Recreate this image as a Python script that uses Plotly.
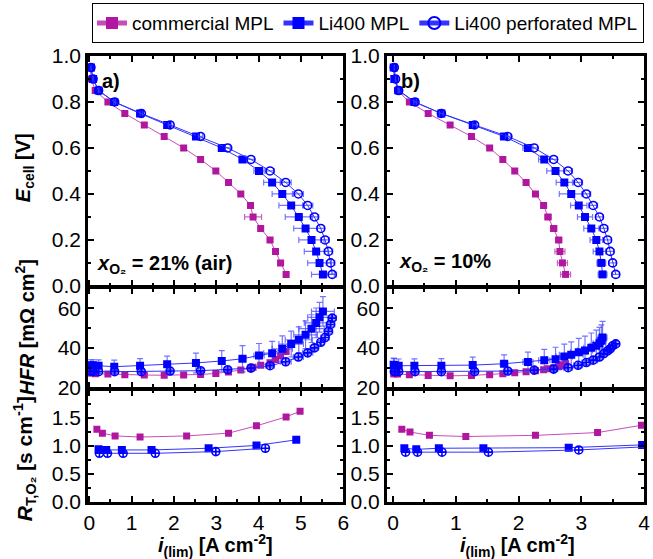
import plotly.graph_objects as go
from plotly.subplots import make_subplots

# ---- polarization data: cell voltage steps [V] ----
V = [0.95, 0.90, 0.85, 0.80, 0.75, 0.70, 0.65, 0.60, 0.55, 0.50,
     0.45, 0.40, 0.35, 0.30, 0.25, 0.20, 0.15, 0.10, 0.05]

# (a) x_O2 = 21 % (air): current density [A cm-2] and its error
a_com_i = [0.02, 0.05, 0.14, 0.44, 0.84, 1.30, 1.77, 2.23, 2.63, 2.99,
           3.29, 3.58, 3.81, 3.87, 4.05, 4.27, 4.40, 4.52, 4.65]
a_com_ierr = [0, 0, 0, 0.01, 0.02, 0.03, 0.03, 0.04, 0.04, 0.05,
              0.05, 0.06, 0.06, 0.20, 0.06, 0.06, 0.06, 0.06, 0.06]
a_li_i = [0.04, 0.09, 0.22, 0.59, 1.20, 1.84, 2.52, 3.13, 3.62, 4.01,
          4.32, 4.56, 4.77, 4.95, 5.11, 5.25, 5.36, 5.44, 5.52]
a_li_ierr = [0, 0, 0.01, 0.02, 0.03, 0.04, 0.05, 0.06, 0.08, 0.12,
             0.20, 0.24, 0.29, 0.32, 0.28, 0.30, 0.28, 0.28, 0.27]
a_pf_i = [0.04, 0.09, 0.22, 0.60, 1.23, 1.91, 2.63, 3.27, 3.82, 4.27,
          4.64, 4.94, 5.16, 5.32, 5.47, 5.57, 5.65, 5.70, 5.74]
a_pf_ierr = [0, 0, 0.01, 0.02, 0.03, 0.04, 0.05, 0.06, 0.08, 0.10,
             0.13, 0.12, 0.12, 0.10, 0.08, 0.10, 0.10, 0.10, 0.10]

# (b) x_O2 = 10 %
b_com_i = [0.01, 0.03, 0.07, 0.26, 0.56, 0.91, 1.25, 1.54, 1.75, 1.94,
           2.12, 2.27, 2.40, 2.47, 2.56, 2.64, 2.66, 2.70, 2.75]
b_com_ierr = [0, 0, 0, 0.01, 0.01, 0.02, 0.02, 0.03, 0.03, 0.03,
              0.04, 0.04, 0.04, 0.05, 0.05, 0.05, 0.08, 0.08, 0.08]
b_li_i = [0.01, 0.02, 0.09, 0.34, 0.77, 1.27, 1.77, 2.15, 2.41, 2.59,
          2.73, 2.84, 2.96, 3.06, 3.16, 3.24, 3.29, 3.32, 3.34]
b_li_ierr = [0, 0, 0.01, 0.02, 0.03, 0.04, 0.06, 0.08, 0.09, 0.14,
             0.13, 0.19, 0.13, 0.12, 0.12, 0.10, 0.10, 0.07, 0.07]
b_pf_i = [0.02, 0.04, 0.09, 0.35, 0.77, 1.30, 1.83, 2.25, 2.56, 2.79,
          2.95, 3.08, 3.19, 3.29, 3.36, 3.42, 3.46, 3.50, 3.55]
b_pf_ierr = [0, 0, 0.01, 0.02, 0.03, 0.03, 0.04, 0.05, 0.06, 0.07,
             0.07, 0.07, 0.07, 0.06, 0.06, 0.06, 0.06, 0.06, 0.06]

# ---- high frequency resistance [mOhm cm2] at the same points ----
a_com_hfr = [27.5, 27.3, 27.0, 26.8, 26.5, 26.3, 26.2, 26.3, 26.6, 27.1,
             27.8, 28.8, 29.8, 30.2, 31.2, 32.5, 34.1, 36.0, 38.2]
a_com_hfr_err = [0.8] * 19
a_li_hfr = [31.2, 31.2, 31.0, 30.5, 31.0, 31.8, 32.4, 33.4, 34.5, 36.2,
            37.3, 39.5, 41.9, 44.1, 46.6, 49.7, 52.6, 55.4, 58.4]
a_li_hfr_err = [2.8, 2.8, 2.9, 3.3, 3.6, 4.0, 5.0, 5.2, 6.6, 6.0,
                6.0, 6.5, 6.5, 6.5, 7.0, 7.0, 7.5, 7.5, 7.4]
a_pf_hfr = [28.2, 28.1, 28.0, 28.0, 28.0, 28.3, 28.5, 29.0, 29.8, 31.0,
            33.0, 35.4, 37.5, 40.0, 42.8, 45.2, 48.3, 51.8, 55.0]
a_pf_hfr_err = [1.0] * 19

b_com_hfr = [27.0, 27.0, 26.8, 26.5, 26.1, 25.9, 26.1, 26.5, 27.0, 27.5,
             28.0, 28.5, 29.0, 29.5, 30.0, 30.5, 31.0, 31.5, 32.0]
b_com_hfr_err = [0.8] * 19
b_li_hfr = [31.5, 31.3, 31.0, 31.0, 31.0, 31.3, 32.0, 32.9, 33.7, 34.3,
            35.7, 36.5, 37.8, 38.7, 40.0, 41.1, 42.3, 43.6, 45.2]
b_li_hfr_err = [3.3, 3.3, 3.4, 3.5, 3.6, 4.0, 4.5, 5.0, 5.5, 6.0,
                6.2, 6.5, 7.0, 7.2, 7.5, 7.8, 8.0, 8.0, 8.2]
b_pf_hfr = [28.0, 28.0, 28.0, 28.0, 28.0, 28.0, 28.3, 28.8, 29.3, 30.0,
            31.2, 32.6, 33.8, 35.4, 37.1, 38.5, 39.5, 41.0, 42.0]
b_pf_hfr_err = [1.0] * 19

# ---- total O2 transport resistance [s cm-1] vs limiting current ----
a_com_r_i = [0.18, 0.31, 0.61, 1.20, 2.30, 3.29, 3.95, 4.65, 4.98]
a_com_r = [1.30, 1.23, 1.18, 1.16, 1.18, 1.23, 1.36, 1.52, 1.62]
a_li_r_i = [0.22, 0.40, 0.77, 1.47, 2.82, 3.95, 4.89]
a_li_r = [0.94, 0.93, 0.93, 0.93, 0.96, 1.01, 1.11]
a_pf_r_i = [0.24, 0.43, 0.80, 1.56, 2.99, 4.16]
a_pf_r = [0.87, 0.87, 0.87, 0.87, 0.90, 0.96]

b_com_r_i = [0.14, 0.27, 0.58, 1.16, 2.27, 3.26, 3.96]
b_com_r = [1.30, 1.25, 1.19, 1.17, 1.19, 1.24, 1.37]
b_li_r_i = [0.18, 0.37, 0.73, 1.44, 2.80, 3.97]
b_li_r = [0.96, 0.94, 0.96, 0.96, 0.97, 1.02]
b_pf_r_i = [0.20, 0.39, 0.78, 1.52, 2.96, 4.10]
b_pf_r = [0.89, 0.89, 0.89, 0.89, 0.93, 0.99]

names = ["commercial MPL", "Li400 MPL", "Li400 perforated MPL"]

FONT = "Liberation Sans, Arial, sans-serif"
MAG = "#B0169E"
MAG_LINE = "#C54DB8"
BLUE = "#0000FF"
BLUE_LINE = "#3333FF"
ERR_BLUE = "rgba(70,70,255,0.75)"
ERR_MAG = "rgba(190,60,180,0.8)"

STY = [
    dict(marker=dict(symbol="square", size=7, color=MAG, line=dict(width=0)),
         line=dict(color=MAG_LINE, width=1), err=ERR_MAG),
    dict(marker=dict(symbol="square", size=8, color=BLUE, line=dict(width=0)),
         line=dict(color=BLUE_LINE, width=1), err=ERR_BLUE),
    dict(marker=dict(symbol="circle-open", size=8, color=BLUE, line=dict(width=1.6, color=BLUE)),
         line=dict(color=BLUE_LINE, width=1), err=ERR_BLUE),
]

fig = make_subplots(rows=3, cols=2, shared_xaxes=True, vertical_spacing=0,
                    horizontal_spacing=0.078)


def add(x, y, k, row, col, ex=None, ey=None, legend=False, symbol=None):
    s = STY[k]
    mk = dict(s["marker"])
    if symbol:
        mk = dict(mk, symbol=symbol)
    tr = go.Scatter(x=x, y=y, mode="lines+markers", name=names[k],
                    marker=mk, line=s["line"], showlegend=legend,
                    legendgroup=names[k])
    if ex is not None:
        tr.error_x = dict(type="data", array=ex, color=s["err"], thickness=1.2, width=3)
    if ey is not None:
        tr.error_y = dict(type="data", array=ey, color=s["err"], thickness=1.2, width=3)
    fig.add_trace(tr, row=row, col=col)


# polarization curves
add(a_com_i, V, 0, 1, 1, ex=a_com_ierr, legend=True)
add(a_li_i, V, 1, 1, 1, ex=a_li_ierr, legend=True)
add(a_pf_i, V, 2, 1, 1, ex=a_pf_ierr, legend=True)
add(b_com_i, V, 0, 1, 2, ex=b_com_ierr)
add(b_li_i, V, 1, 1, 2, ex=b_li_ierr)
add(b_pf_i, V, 2, 1, 2, ex=b_pf_ierr)

# HFR
add(a_com_i, a_com_hfr, 0, 2, 1, ey=a_com_hfr_err)
add(a_li_i, a_li_hfr, 1, 2, 1, ex=a_li_ierr, ey=a_li_hfr_err)
add(a_pf_i, a_pf_hfr, 2, 2, 1, ex=a_pf_ierr, ey=a_pf_hfr_err, symbol="circle-cross-open")
add(b_com_i, b_com_hfr, 0, 2, 2, ey=b_com_hfr_err)
add(b_li_i, b_li_hfr, 1, 2, 2, ex=b_li_ierr, ey=b_li_hfr_err)
add(b_pf_i, b_pf_hfr, 2, 2, 2, ex=b_pf_ierr, ey=b_pf_hfr_err, symbol="circle-cross-open")

# transport resistance
add(a_com_r_i, a_com_r, 0, 3, 1)
add(a_li_r_i, a_li_r, 1, 3, 1)
add(a_pf_r_i, a_pf_r, 2, 3, 1, symbol="circle-cross-open")
add(b_com_r_i, b_com_r, 0, 3, 2)
add(b_li_r_i, b_li_r, 1, 3, 2)
add(b_pf_r_i, b_pf_r, 2, 3, 2, symbol="circle-cross-open")

# figure geometry in pixels (plot area 88..650 x 50..502)
W, H = 653, 559
L, T, PW, PH = 88, 50, 562, 452
LW = 2.5


def fx(x):
    return (x - L) / PW


def fy(y):
    return (T + PH - y) / PH


# panels stacked with a gap of one line width so neighbouring frames coincide
row_dom = {1: [fy(283), fy(50)], 2: [fy(386), fy(285.5)], 3: [fy(502), fy(388.5)]}
col_dom = {1: [fx(88), fx(346)], 2: [fx(390), fx(650)]}

axis_common = dict(showline=True, linewidth=LW, linecolor="black", mirror="allticks",
                   ticks="inside", ticklen=6, tickwidth=2, tickcolor="black",
                   showgrid=False, zeroline=False,
                   tickfont=dict(family=FONT, size=21, color="black"))
minor_common = dict(ticks="inside", ticklen=3.5, tickwidth=1.5, tickcolor="black")

x_ranges = {1: [-0.03, 6.0], 2: [-0.1, 4.0]}
for col in (1, 2):
    for row in (1, 2, 3):
        fig.update_xaxes(axis_common, range=x_ranges[col], dtick=1, tick0=0,
                         domain=col_dom[col],
                         minor=dict(minor_common, dtick=0.5),
                         showticklabels=(row == 3), row=row, col=col)
    fig.update_yaxes(axis_common, range=[0, 1.0], domain=row_dom[1],
                     tickvals=[0, 0.2, 0.4, 0.6, 0.8, 1.0],
                     ticktext=["0.0", "0.2", "0.4", "0.6", "0.8", "1.0"],
                     minor=dict(minor_common, tickvals=[0.1, 0.3, 0.5, 0.7, 0.9]),
                     row=1, col=col)
    fig.update_yaxes(axis_common, range=[20, 70], domain=row_dom[2],
                     tickvals=[20, 40, 60],
                     minor=dict(minor_common, tickvals=[30, 50]),
                     row=2, col=col)
    fig.update_yaxes(axis_common, range=[0, 2.0], domain=row_dom[3],
                     tickvals=[0, 0.5, 1.0, 1.5],
                     ticktext=["0.0", "0.5", "1.0", "1.5"],
                     minor=dict(minor_common, tickvals=[0.25, 0.75, 1.25, 1.75]),
                     row=3, col=col)

ann = []
title_font = dict(family=FONT, size=20, color="black")
for txt, (x, y) in [("<b>a)</b>", (111, 75)), ("<b>b)</b>", (414, 75))]:
    ann.append(dict(text=txt, x=fx(x), y=fy(y), xref="paper", yref="paper", showarrow=False,
                    xanchor="center", yanchor="middle", font=title_font))
for txt, (x, y) in [("<b><i>x</i><sub>O₂</sub> = 21% (air)</b>", (95, 261)),
                    ("<b><i>x</i><sub>O₂</sub> = 10%</b>", (400, 259))]:
    ann.append(dict(text=txt, x=fx(x), y=fy(y), xref="paper", yref="paper", showarrow=False,
                    xanchor="left", yanchor="middle", font=title_font))
for txt, yc, size in [("<b><i>E</i><sub>cell</sub> [V]</b>", 163, 20),
                      ("<b><i>HFR</i> [mΩ cm<sup>2</sup>]</b>", 325, 20),
                      ("<b><i>R</i><sub>T,O₂</sub> [s cm<sup>-1</sup>]</b>", 458, 21)]:
    ann.append(dict(text=txt, x=fx(24), y=fy(yc), xref="paper", yref="paper", showarrow=False,
                    textangle=-90, xanchor="center", yanchor="middle",
                    font=dict(title_font, size=size)))
for xc in (217, 522):
    ann.append(dict(text="<b><i>i</i><sub>(lim)</sub> [A cm<sup>-2</sup>]</b>",
                    x=fx(xc), y=fy(546), xref="paper", yref="paper", showarrow=False,
                    xanchor="center", yanchor="middle", font=title_font))

fig.update_layout(
    width=W, height=H,
    margin=dict(l=L, r=W - L - PW, t=T, b=H - T - PH),
    paper_bgcolor="white", plot_bgcolor="white",
    font=dict(family=FONT, size=18, color="black"),
    annotations=ann,
    legend=dict(orientation="h", x=1.0, xanchor="right", y=fy(37), yanchor="bottom",
                bordercolor="black", borderwidth=1, bgcolor="white",
                font=dict(family=FONT, size=19, color="black"),
                itemsizing="constant", tracegroupgap=0),
)

fig.write_html("out.html")
